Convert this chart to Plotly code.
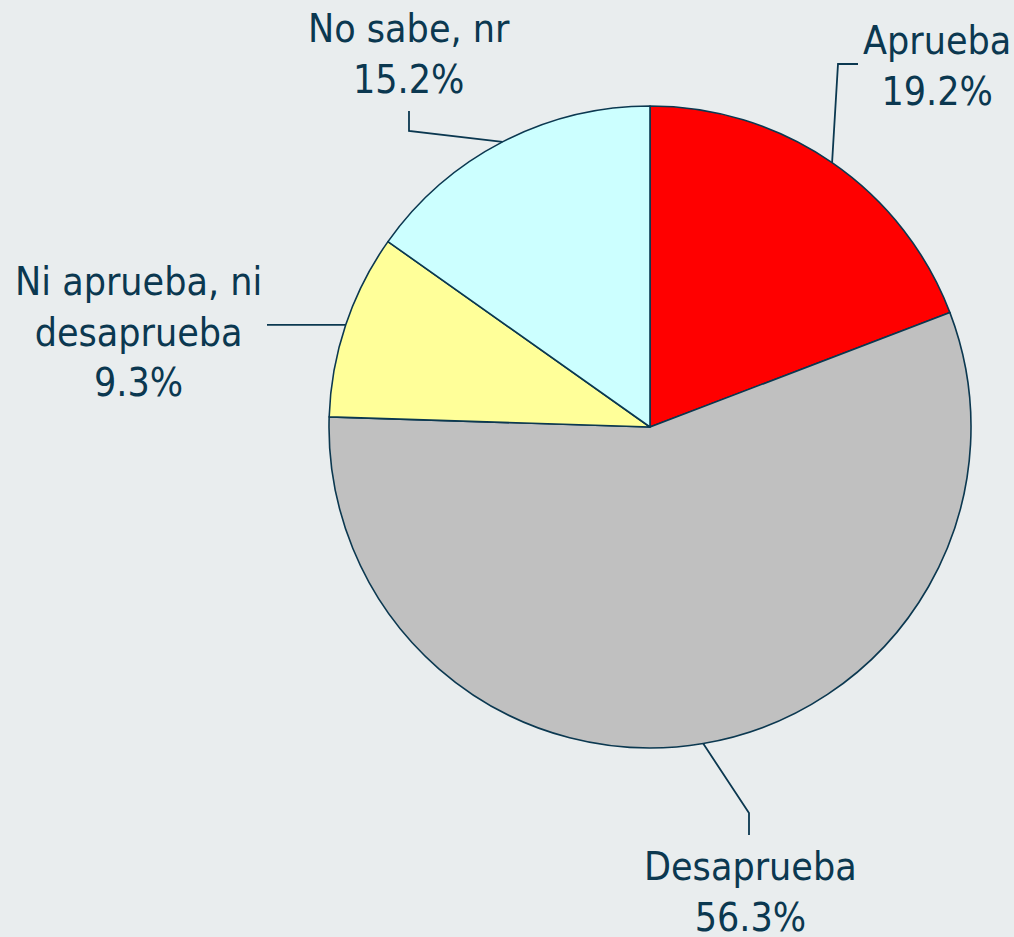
import math
import plotly.graph_objects as go

# ---- data ----
categories = ["Aprueba", "Desaprueba", "Ni aprueba, ni<br>desaprueba", "No sabe, nr"]
values = [19.2, 56.3, 9.3, 15.2]
colors = ["#FF0000", "#C0C0C0", "#FFFF99", "#CCFFFF"]

# ---- layout constants (pixels) ----
W, H = 1014, 937
CX, CY, R = 650, 427, 321
BG = "#E9EDEE"
INK = "#0B3850"
FONT = "DejaVu Sans Condensed, Liberation Sans, Arial, sans-serif"
FS = 39

# label placement: (elbow point, end point, text centre); end y None = horizontal
label_layout = [
    {"elbow": (838, 64), "end": (858, 64), "text": (937, 66)},
    {"elbow": (749, 813), "end": (749, 835), "text": (750, 892)},
    {"elbow": None, "end": (267, None), "text": (138, 332)},
    {"elbow": (409, 131), "end": (409, 111), "text": (409, 54)},
]


def px(x):
    return x / W


def py(y):
    return 1 - y / H


fig = go.Figure(
    go.Pie(
        labels=categories,
        values=values,
        marker=dict(colors=colors, line=dict(color=INK, width=1.6)),
        sort=False,
        direction="clockwise",
        rotation=0,
        textinfo="none",
        hoverinfo="label+percent",
        showlegend=False,
        domain=dict(x=[px(CX - R), px(CX + R)], y=[py(CY + R), py(CY - R)]),
    )
)

total = sum(values)
cum = 0.0
shapes = []
annotations = []
for cat, v, lay in zip(categories, values, label_layout):
    mid = (cum + v / 2) / total * 2 * math.pi
    cum += v
    ex = CX + R * math.sin(mid)
    ey = CY - R * math.cos(mid)
    pts = [(ex, ey)]
    if lay["elbow"]:
        pts.append(lay["elbow"])
    endx, endy = lay["end"]
    pts.append((endx, ey if endy is None else endy))
    path = "M " + " L ".join(f"{px(x):.5f},{py(y):.5f}" for x, y in pts)
    shapes.append(dict(type="path", path=path, xref="paper", yref="paper",
                       line=dict(color=INK, width=1.8)))
    tx, ty = lay["text"]
    annotations.append(dict(
        x=px(tx), y=py(ty), xref="paper", yref="paper",
        text=f"{cat}<br>{v / total * 100:.1f}%",
        showarrow=False, xanchor="center", yanchor="middle",
        align="center", font=dict(family=FONT, size=FS, color=INK),
    ))

fig.update_layout(
    width=W, height=H,
    margin=dict(l=0, r=0, t=0, b=0),
    paper_bgcolor=BG, plot_bgcolor=BG,
    shapes=shapes, annotations=annotations,
)

fig.write_html(
    "out.html",
    config={"displayModeBar": False},
    post_script=(
        "document.body.style.margin='0';"
        "document.body.style.padding='0';"
        "document.body.style.overflow='hidden';"
        "document.body.style.background='" + BG + "';"
    ),
)
